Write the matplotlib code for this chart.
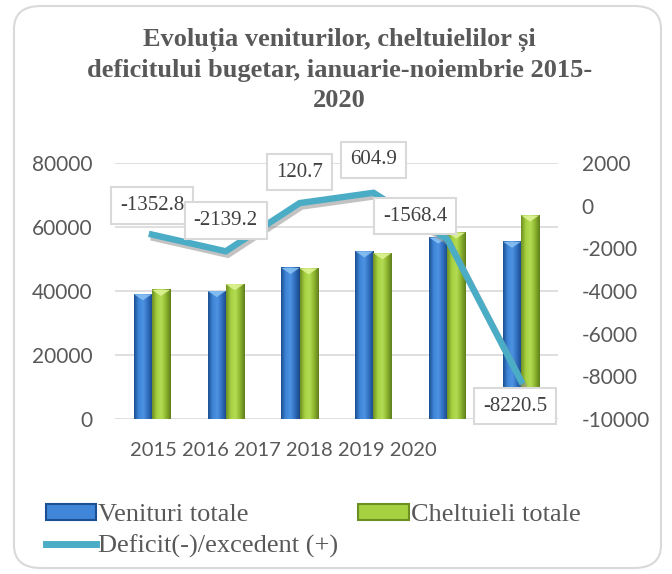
import matplotlib
matplotlib.use("Agg")
import matplotlib.pyplot as plt
import matplotlib.patheffects as pe
from matplotlib.patches import FancyBboxPatch, Patch, Polygon
from matplotlib.lines import Line2D
from matplotlib.colors import LinearSegmentedColormap
import numpy as np

plt.rcParams["axes.unicode_minus"] = False

# ---- data ----
years = ["2015", "2016", "2017", "2018", "2019", "2020"]
venituri = [39000, 40000, 47200, 52400, 56700, 55400]
cheltuieli = [40350, 42140, 47080, 51800, 58270, 63620]
deficit = [-1352.8, -2139.2, 120.7, 604.9, -1568.4, -8220.5]
# label offsets (px) as placed in the original
lbl_off = [(0, 29), (0, 31), (0, 31), (0, 33), (-32, 23), (-6, -25)]

title = "Evoluția veniturilor, cheltuielilor și\ndeficitului bugetar, ianuarie-noiembrie 2015-\n2020"

GRAY = "#595959"
SERIF = ["Liberation Serif", "DejaVu Serif"]
SANS = ["Lato", "DejaVu Sans"]

fig = plt.figure(figsize=(6.72, 5.74), dpi=100)
fig.patch.set_facecolor("white")

# rounded chart border
border = FancyBboxPatch((14 / 672, 6 / 574), 647 / 672, 562 / 574,
                        boxstyle="round,pad=0,rounding_size=0.04",
                        transform=fig.transFigure, fc="none", ec="#D9D9D9", lw=1.5, zorder=-1)
fig.patches.append(border)

ax1 = fig.add_axes([115 / 672, 1 - 419 / 574, 443 / 672, 256 / 574])
ax1.set_facecolor("none")
ax2 = ax1.twinx()

x = np.arange(len(years))
bw = 0.245

blue_cm = LinearSegmentedColormap.from_list("b", ["#1d4f93", "#3f86d8", "#4d93e2", "#2f6cbc", "#1a4785"])
green_cm = LinearSegmentedColormap.from_list("g", ["#6d8f22", "#a6d140", "#b4dc55", "#8db52e", "#5f7e1c"])
grad = np.linspace(0, 1, 64).reshape(1, -1)


def draw_bar(ax, xc, h, cmap, top_col):
    x0, x1 = xc - bw / 2, xc + bw / 2
    ax.imshow(grad, cmap=cmap, extent=(x0, x1, 0, h), aspect="auto", zorder=3, interpolation="bilinear")
    d = 1900
    ax.add_patch(Polygon([(x0, h), (x1, h), (xc, h - d)], closed=True, fc=top_col, ec="none", zorder=4, alpha=0.85))


for i in range(len(years)):
    draw_bar(ax1, x[i] - bw / 2, venituri[i], blue_cm, "#8cc4f5")
    draw_bar(ax1, x[i] + bw / 2, cheltuieli[i], green_cm, "#e2f59a")

ax1.set_xlim(-0.5, len(years) - 0.5)
ax1.set_ylim(0, 80000)
ax1.set_yticks([0, 20000, 40000, 60000, 80000])
ax1.grid(axis="y", color="#D9D9D9", lw=1.2, zorder=0)
ax1.set_axisbelow(True)
ax1.set_xticks([])
for s in ax1.spines.values():
    s.set_visible(False)
ax1.tick_params(axis="y", length=0, pad=16, labelsize=15, labelcolor=GRAY)
for t in ax1.get_yticklabels():
    t.set_family(SANS)

ax2.plot(x, deficit, color="#4BACC6", lw=4.6, solid_joinstyle="miter", zorder=5,
         path_effects=[pe.SimpleLineShadow(offset=(1.5, -2.5), shadow_color="#909090", alpha=0.55),
                       pe.Normal()])
ax2.set_ylim(-10000, 2000)
ax2.set_yticks(np.arange(-10000, 2001, 2000))
for s in ax2.spines.values():
    s.set_visible(False)
ax2.tick_params(axis="y", length=0, pad=17, labelsize=15, labelcolor=GRAY)
for t in ax2.get_yticklabels():
    t.set_family(SANS)

for i, v in enumerate(deficit):
    ax2.annotate(f"{v}", (x[i], v), xytext=lbl_off[i], textcoords="offset pixels",
                 ha="center", va="center", fontsize=15, family=SERIF, color="#404040",
                 bbox=dict(boxstyle="square,pad=0.42", fc="white", ec="#D9D9D9", lw=1.5),
                 zorder=6 + i)

# category labels (as shown in the original, one run of text)
fig.text(130 / 672, 1 - 450 / 574, " ".join(years), ha="left", va="center",
         fontsize=14.5, family=SANS, color=GRAY)

fig.text(0.505, 1 - 70 / 574, title, ha="center", va="center", fontsize=19,
         fontweight="bold", family=SERIF, color=GRAY, linespacing=1.4)

handles = [Patch(fc="#3f86d8", ec="#1d4f93", lw=1.5),
           Line2D([0], [0], color="#4BACC6", lw=5),
           Patch(fc="#a6d140", ec="#6d8f22", lw=1.5)]
labels = ["Venituri totale", "Deficit(-)/excedent (+)", "Cheltuieli totale"]
leg = fig.legend(handles, labels, ncol=2, loc="center left",
                 bbox_to_anchor=(33 / 672, 1 - 531 / 574), frameon=False,
                 prop={"family": SERIF, "size": 19}, handlelength=1.9, handleheight=0.55,
                 handletextpad=0.08, columnspacing=0.75, labelspacing=0.3, borderpad=0)
for t in leg.get_texts():
    t.set_color(GRAY)

fig.savefig("out.png", dpi=100, facecolor="white")
